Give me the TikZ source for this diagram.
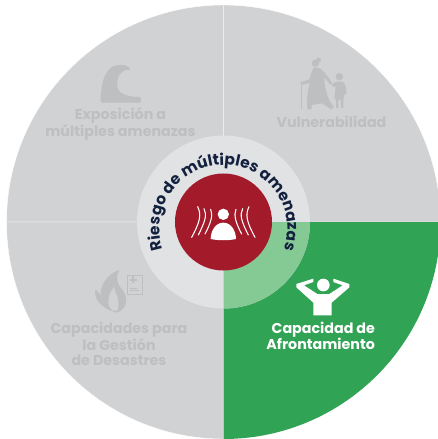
\documentclass[tikz,border=0pt]{standalone}
\usepackage{fontspec}
\setmainfont{Poppins}
\usetikzlibrary{positioning,decorations.text}
\definecolor{quadgray}{HTML}{D1D2D4}
\definecolor{ringgray}{HTML}{E1E2E4}
\definecolor{icongray}{HTML}{BDBFC0}
\definecolor{quadgreen}{HTML}{31A354}
\definecolor{ringgreen}{HTML}{85C995}
\definecolor{corered}{HTML}{A31B2A}
\definecolor{arcnavy}{HTML}{13213F}
\tikzset{
	%Styles of the picture
	quad/.style = {fill=quadgray, draw=white, line width=0.3pt},
	label/.style = {font=\bfseries\fontsize{10.7}{11.6}\selectfont, text=icongray,
                           align=center, inner sep=0pt},
	zoomed/.style = {x=0.25pt, y=-0.25pt},
	heat/.style = {draw=white, line width=0.8pt, line cap=round}
}
\begin{document}
\begin{tikzpicture}[x=0.75pt, y=0.75pt]
		\useasboundingbox (-223.5,-217) rectangle (214.5,222);
		\clip (-223.5,-217) rectangle (214.5,222);

		% quadrants
		\fill[quad] (0,0) -- (90:217) arc (90:180:217) -- cycle;
		\fill[quad] (0,0) -- (0:217) arc (0:90:217) -- cycle;
		\fill[quad] (0,0) -- (180:217) arc (180:270:217) -- cycle;
		\fill[quadgreen] (0,0) -- (270:217) arc (270:360:217) -- cycle;

		% ring and core
		\node (ring) [circle, fill=ringgray, minimum size=129.75pt, inner sep=0pt] at (0,0) {};
		\fill[ringgreen] (0,0) -- (270:86.5) arc (270:360:86.5) -- cycle;
		\node (core) [circle, fill=corered, minimum size=72.75pt, inner sep=0pt] at (0,0) {};
		\path[decorate, decoration={text along path, text align=center,
			text={|\bfseries\fontsize{11.6}{13}\selectfont\color{arcnavy}|Riesgo de múltiples amenazas}}]
			([shift={(0,-7)}]204:64) arc (204:-24:64);

		% labels
		\node (expo) [label] at (-103,98) {Exposición a\\múltiples amenazas};
		\node (vuln) [label] at (108,100) {Vulnerabilidad};
		\node (gest) [label] at (-104.5,-122) {Capacidades para\\la Gestión\\de Desastres};
		\node (afro) [label, text=white, align=right] at (97.2,-114) {Capacidad de\\Afrontamiento};

		% wave
		\begin{scope}[shift={(-193.5,172)}, zoomed]
			\fill[icongray, rounded corners=1pt] (212,158) .. controls (212,100) and (225,45) .. (272,45)
				.. controls (285,45) and (297,50) .. (303,60)
				.. controls (280,55) and (262,75) .. (262,102)
				.. controls (262,130) and (290,141) .. (333,141) -- (333,158) -- cycle;
		\end{scope}

		% grandmother and child
		\begin{scope}[shift={(26.5,172)}, zoomed]
			\fill[icongray] (196,40) circle (11) (206,30) circle (7);
			\fill[icongray] (190,54) .. controls (200,50) and (212,54) .. (218,62)
				.. controls (228,72) and (240,88) .. (246,100) -- (241,104)
				.. controls (235,96) and (228,88) .. (222,82)
				.. controls (224,110) and (232,150) .. (251,170)
				-- (244,178) -- (215,160) -- (185,165) -- (185,178) -- (172,178)
				.. controls (170,150) and (172,120) .. (180,100) -- (155,104) -- (150,98) -- (178,88)
				.. controls (182,75) and (186,62) .. (190,54) -- cycle;
			\draw[icongray, line width=1pt] (155,100) -- (155,178);
			\fill[icongray] (268,80) circle (11);
			\fill[icongray] (258,95) -- (278,95) .. controls (286,100) and (290,118) .. (289,132) -- (284,132)
				-- (280,148) -- (280,174) -- (273,174) -- (273,150) -- (265,150) -- (265,174) -- (258,174)
				-- (258,148) -- (253,148) -- (257,110) -- (248,110) -- (245,104) -- cycle;
		\end{scope}

		% flame and sheet
		\begin{scope}[shift={(-193.5,-38)}, zoomed]
			\fill[icongray] (262,158) .. controls (225,150) and (190,125) .. (196,88)
				.. controls (205,95) and (208,100) .. (212,108)
				.. controls (208,75) and (235,40) .. (268,30)
				.. controls (255,55) and (262,72) .. (276,88)
				.. controls (290,105) and (300,140) .. (262,158) -- cycle;
			\fill[quadgray] (248,152) .. controls (228,135) and (232,110) .. (252,80)
				.. controls (256,105) and (272,115) .. (262,152) -- cycle;
			\draw[icongray, line width=0.6pt, fill=quadgray] (292,46) rectangle (338,103);
			\draw[icongray, line width=1.5pt] (299,59) -- (320,59) (309.5,49) -- (309.5,69);
			\draw[icongray, line width=0.6pt] (300,84) -- (320,84) (300,92) -- (328,92);
		\end{scope}

		% resting person
		\begin{scope}[shift={(26.5,-38)}, zoomed]
			\fill[white] (220,75) circle (19);
			\fill[white] (190,166) -- (245,166) -- (245,128) -- (298,82) -- (298,72)
				-- (250,56) -- (250,66) -- (278,76) -- (238,102) -- (202,102) -- (162,76)
				-- (190,66) -- (190,56) -- (139,72) -- (139,82) -- (190,128) -- cycle;
		\end{scope}

		% person in the core
		\begin{scope}[shift={(-103.5,102)}, zoomed]
			\fill[white] (310,283) circle (17);
			\fill[white] (272,357) .. controls (272,335) and (285,308) .. (310,308)
				.. controls (335,308) and (348,335) .. (348,357)
				.. controls (325,362) and (295,362) .. (272,357) -- cycle;
			\foreach \mirror in {1,-1} {
				\begin{scope}[shift={(310,0)}, xscale=\mirror, shift={(-310,0)}]
					\draw[heat] (233,260) .. controls (245,285) and (240,305) .. (215,352);
					\draw[heat] (252,266) .. controls (262,285) and (255,305) .. (235,345);
					\draw[heat] (272,268) .. controls (280,285) and (272,310) .. (255,342);
				\end{scope}
			}
		\end{scope}
\end{tikzpicture}
\end{document}
